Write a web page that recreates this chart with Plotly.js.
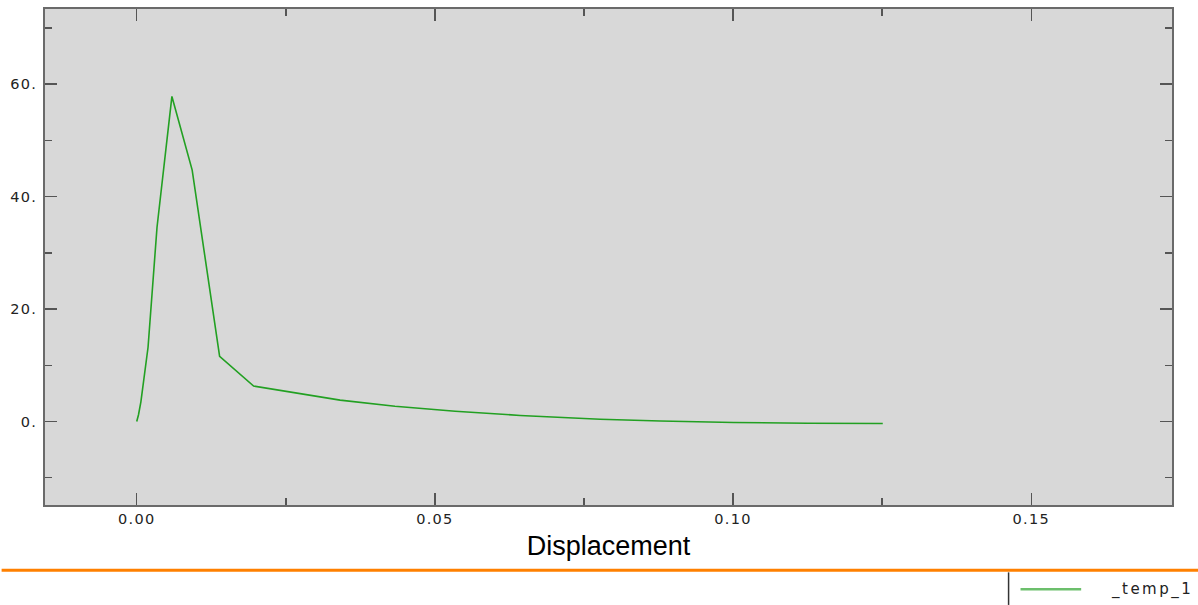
<!DOCTYPE html>
<html>
<head>
<meta charset="utf-8">
<script src="https://cdn.plot.ly/plotly-3.0.1.min.js"></script>
<style>
  html, body { margin:0; padding:0; background:#fff; }
  #chart { width:1198px; height:605px; }
  .xtick text, .ytick text { letter-spacing: 1.3px; }
</style>
</head>
<body>
<div id="chart"></div>
<script>
// Data
const displacement = [0, 0.0003, 0.0007, 0.0012, 0.0019, 0.0034, 0.0059, 0.0093, 0.0139, 0.0196,
                      0.0263, 0.0341, 0.0433, 0.0534, 0.0643, 0.0777, 0.0878, 0.1001, 0.1125, 0.1251];
const force = [0, 1.2, 3.5, 7.5, 13.2, 34.5, 57.8, 44.7, 11.6, 6.3,
               5.16, 3.8, 2.72, 1.83, 1.07, 0.41, 0.1, -0.18, -0.3, -0.36];
const seriesName = "_temp_1";
const xTickVals = [0, 0.05, 0.10, 0.15];
const xTickText = ["0.00", "0.05", "0.10", "0.15"];
const yTickVals = [0, 20, 40, 60];
const yTickText = ["0.", "20.", "40.", "60."];
const xTitle = "Displacement";

const lineColor = "#22a022";

const trace = {
  x: displacement,
  y: force,
  type: "scatter",
  mode: "lines",
  name: seriesName,
  line: { color: lineColor, width: 1.6 },
  hoverinfo: "x+y"
};

const axisCommon = {
  showline: true,
  mirror: "ticks",
  linecolor: "#6a6a6a",
  linewidth: 2,
  ticks: "inside",
  ticklen: 12,
  tickwidth: 1.5,
  tickcolor: "#555",
  showgrid: false,
  zeroline: false,
  tickfont: { family: "DejaVu Sans, Verdana, sans-serif", size: 14.5, color: "#222" },
  minor: { ticks: "inside", ticklen: 7, tickwidth: 1.5, tickcolor: "#555", showgrid: false }
};

const layout = {
  width: 1198,
  height: 605,
  margin: { l: 45, r: 26, t: 9, b: 100, pad: 0 },
  paper_bgcolor: "#ffffff",
  plot_bgcolor: "#d8d8d8",
  showlegend: false,
  xaxis: Object.assign({}, axisCommon, {
    range: [-0.01538, 0.1736],
    tickmode: "array",
    tickvals: xTickVals,
    ticktext: xTickText,
    minor: Object.assign({}, axisCommon.minor, { tickmode: "linear", tick0: 0.025, dtick: 0.05 }),
    ticklabelstandoff: 0,
    title: { text: xTitle, font: { family: "Liberation Sans, Arial, sans-serif", size: 27, color: "#000" }, standoff: 10 }
  }),
  yaxis: Object.assign({}, axisCommon, {
    range: [-14.85, 73.35],
    tickmode: "array",
    tickvals: yTickVals,
    ticktext: yTickText,
    minor: Object.assign({}, axisCommon.minor, { tickmode: "linear", tick0: -10, dtick: 20 }),
    ticklabelstandoff: 3
  }),
  shapes: [
    { type: "line", xref: "paper", yref: "paper", x0: -0.0385, x1: 1.0231, y0: -0.1318, y1: -0.1318,
      line: { color: "#ff8000", width: 3 } },
    { type: "line", xref: "paper", yref: "paper", x0: 0.855, x1: 0.855, y0: -0.1358, y1: -0.2015,
      line: { color: "#333", width: 1.5 } },
    { type: "line", xref: "paper", yref: "paper", x0: 0.8656, x1: 0.9194, y0: -0.1698, y1: -0.1698,
      line: { color: "#6cbf6c", width: 2.5 } }
  ],
  annotations: [
    { xref: "paper", yref: "paper", x: 0.944, y: -0.1698, xanchor: "left", yanchor: "middle",
      showarrow: false,
      text: '<span style="letter-spacing:2.5px">' + seriesName + '</span>',
      font: { family: "DejaVu Sans, Verdana, sans-serif", size: 15, color: "#222" } }
  ]
};

Plotly.newPlot("chart", [trace], layout, { displayModeBar: false, staticPlot: true });
</script>
</body>
</html>
